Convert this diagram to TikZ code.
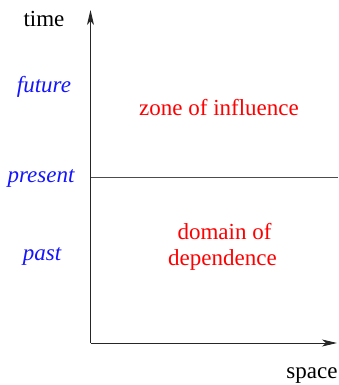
\documentclass[tikz,border=0pt]{standalone}
\usepackage{fontspec}
\setmainfont{Liberation Serif}
\usetikzlibrary{arrows.meta}
\definecolor{lblblue}{RGB}{20,20,255}
\definecolor{lblred}{RGB}{255,0,0}
\begin{document}
\begin{tikzpicture}[x=1pt,y=-1pt,
  txt/.style={inner sep=0pt,anchor=base,font=\fontsize{23}{27}\selectfont},
  timelbl/.style={txt,text=lblblue,font=\fontsize{23}{27}\selectfont\itshape},
  zonelbl/.style={txt,text=lblred,align=center},
  axis/.style={line width=0.9pt,black!85,-{Stealth[length=15pt,width=7pt,inset=4pt]}},
  sep/.style={line width=0.8pt,black!70}]
\useasboundingbox (0,0) rectangle (338,385);
\coordinate (O) at (90.5,343);
\coordinate (T) at (90.5,10);
\coordinate (S) at (337,343);
\coordinate (P) at (90.5,177);
\coordinate (Pe) at (338,177);
\draw[axis] (O) -- (T);
\draw[axis] (O) -- (S);
\draw[sep] (P) -- (Pe);
\node[txt] (time) at (44,27) {time};
\node[txt] (space) at (312,378) {space};
\node[timelbl] (future) at (44,93) {future};
\node[timelbl] (present) at (41,182) {present};
\node[timelbl] (past) at (42,260) {past};
\node[zonelbl] (zone) at (219,115) {zone of influence};
\node[zonelbl] (dom1) at (224.5,239) {domain of};
\node[zonelbl] (dom2) at (222.5,265) {dependence};
\end{tikzpicture}
\end{document}
